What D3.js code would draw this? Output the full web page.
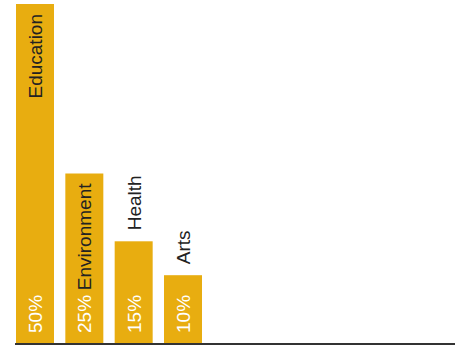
<!DOCTYPE html>
<html>
<head>
<meta charset="utf-8">
<script src="https://cdn.jsdelivr.net/npm/d3@7"></script>
<style>
  html, body { margin: 0; padding: 0; background: #fff; }
  svg { display: block; font-family: "Liberation Sans", Arial, Helvetica, sans-serif; }
</style>
</head>
<body>
<svg id="chart" width="455" height="345"></svg>
<script>
// Share of funding by cause
const categories = ["Education", "Environment", "Health", "Arts"];
const shares = [50, 25, 15, 10];

const width = 455, height = 345;
const margin = { top: 4, left: 16, bottom: 2 };
const baseline = height - margin.bottom;
const barColor = "#E8AD10";
const fontSize = 19;

const svg = d3.select("#chart");

const x = d3.scaleBand()
  .domain(categories)
  .range([margin.left, 202])
  .paddingInner(0.23)
  .paddingOuter(0);

const y = d3.scaleLinear()
  .domain([0, d3.max(shares)])
  .range([baseline, margin.top]);

const data = categories.map((c, i) => ({ name: c, value: shares[i] }));

const bars = svg.append("g").selectAll("g")
  .data(data)
  .join("g");

bars.append("rect")
  .attr("x", d => x(d.name))
  .attr("y", d => y(d.value))
  .attr("width", x.bandwidth())
  .attr("height", d => baseline - y(d.value))
  .attr("fill", barColor);

// Approximate cap-height offset so rotated text sits centred in its bar
const cx = d => x(d.name) + x.bandwidth() / 2 + fontSize * 0.37;

// Percentage labels, reading upward from the bottom of each bar
const pct = bars.append("text")
  .attr("transform", d => `translate(${cx(d)},${baseline - 10}) rotate(-90)`)
  .attr("text-anchor", "start")
  .attr("fill", "#fff")
  .attr("font-size", fontSize)
  .text(d => d.value + "%");

// Category labels: inside the bar when there is room, otherwise above it
bars.append("text")
  .attr("font-size", fontSize)
  .attr("fill", "#222")
  .text(d => d.name)
  .each(function (d, i) {
    const len = this.getComputedTextLength();
    const pLen = pct.nodes()[i].getComputedTextLength();
    const h = baseline - y(d.value);
    const inside = h - 10 - pLen - 4 - 9 >= len;
    d3.select(this)
      .attr("text-anchor", inside ? "end" : "start")
      .attr("transform", `translate(${cx(d)},${inside ? y(d.value) + 10 : y(d.value) - 11}) rotate(-90)`);
  });

// Baseline
svg.append("line")
  .attr("x1", margin.left - 1)
  .attr("x2", width)
  .attr("y1", baseline + 1)
  .attr("y2", baseline + 1)
  .attr("stroke", "#333")
  .attr("stroke-width", 2);
</script>
</body>
</html>
